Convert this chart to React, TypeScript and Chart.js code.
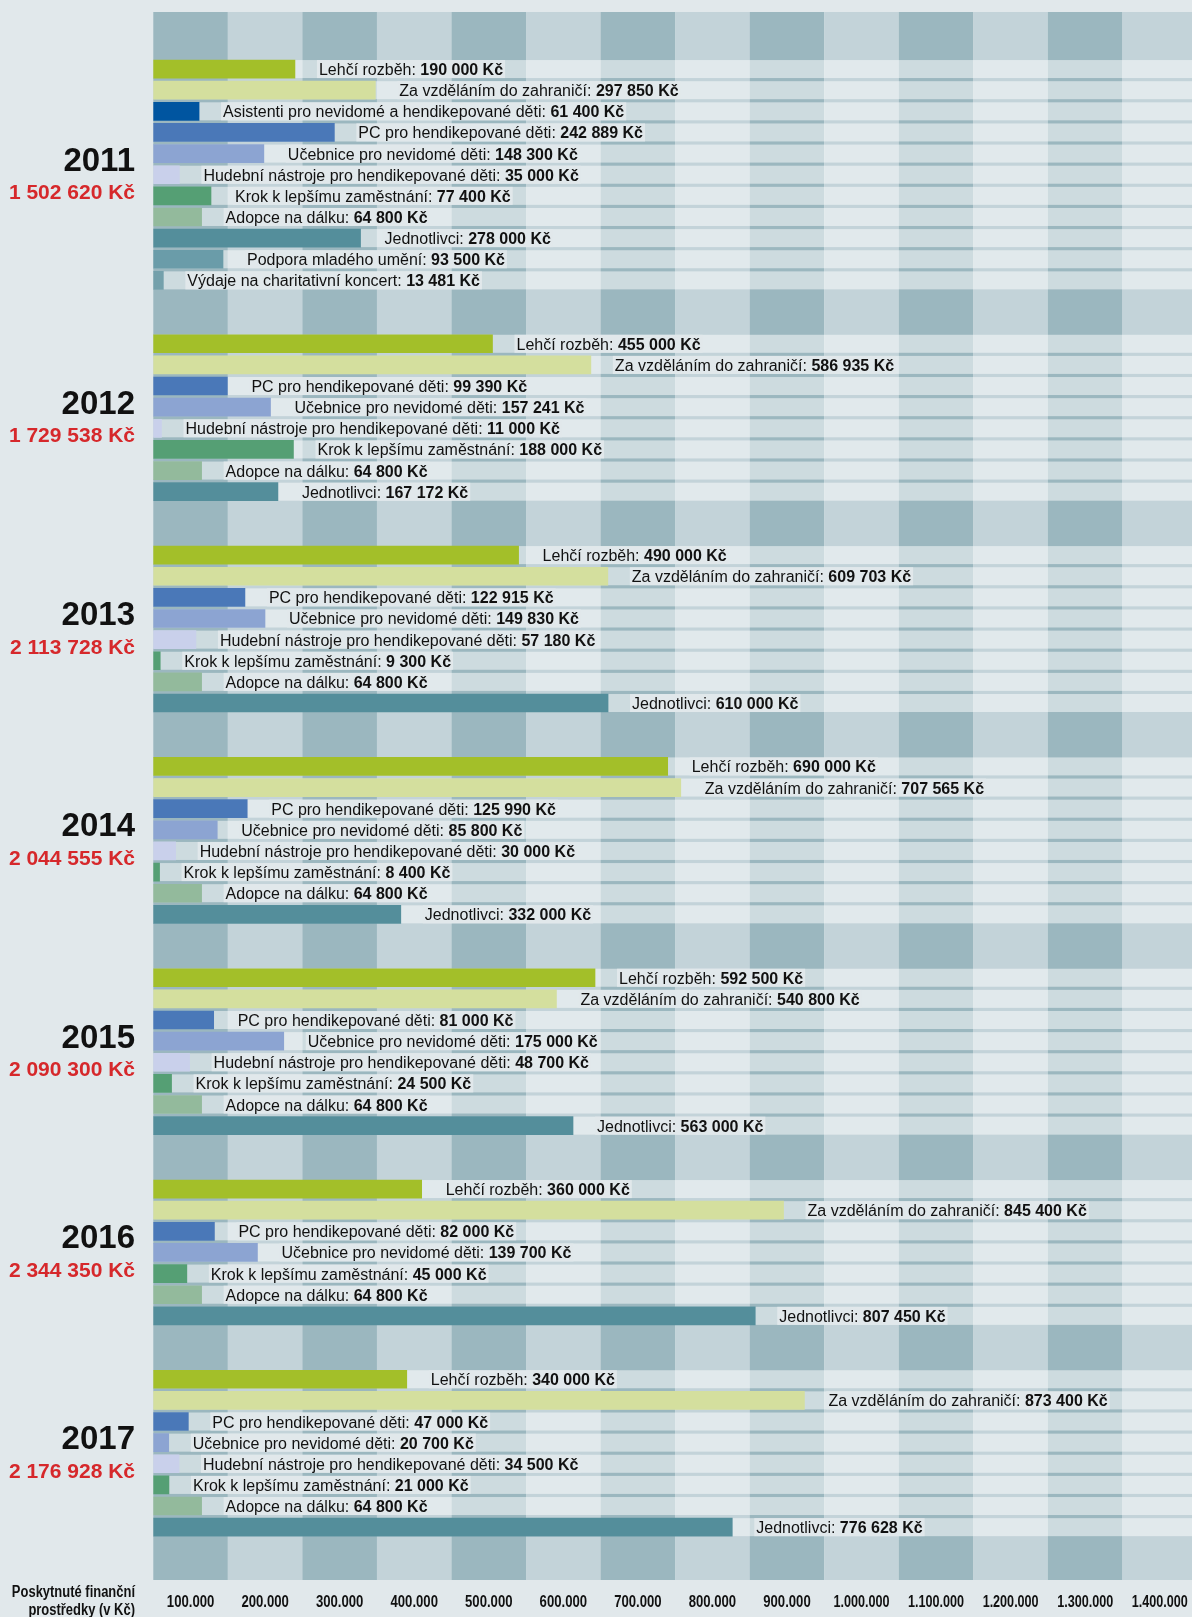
import React, { useEffect, useRef } from "react";
import { Chart, registerables } from "chart.js";

Chart.register(...registerables);

// ---------------- DATA ----------------
const years = ["2011", "2012", "2013", "2014", "2015", "2016", "2017"];
const yearTotals = [
  "1 502 620 Kč",
  "1 729 538 Kč",
  "2 113 728 Kč",
  "2 044 555 Kč",
  "2 090 300 Kč",
  "2 344 350 Kč",
  "2 176 928 Kč",
];

const categories = [
  "Lehčí rozběh",
  "Za vzděláním do zahraničí",
  "Asistenti pro nevidomé a hendikepované děti",
  "PC pro hendikepované děti",
  "Učebnice pro nevidomé děti",
  "Hudební nástroje pro hendikepované děti",
  "Krok k lepšímu zaměstnání",
  "Adopce na dálku",
  "Jednotlivci",
  "Podpora mladého umění",
  "Výdaje na charitativní koncert",
];

const values2011 = [190000, 297850, 61400, 242889, 148300, 35000, 77400, 64800, 278000, 93500, 13481];
const values2012 = [455000, 586935, null, 99390, 157241, 11000, 188000, 64800, 167172, null, null];
const values2013 = [490000, 609703, null, 122915, 149830, 57180, 9300, 64800, 610000, null, null];
const values2014 = [690000, 707565, null, 125990, 85800, 30000, 8400, 64800, 332000, null, null];
const values2015 = [592500, 540800, null, 81000, 175000, 48700, 24500, 64800, 563000, null, null];
const values2016 = [360000, 845400, null, 82000, 139700, null, 45000, 64800, 807450, null, null];
const values2017 = [340000, 873400, null, 47000, 20700, 34500, 21000, 64800, 776628, null, null];

const valuesByYear: (number | null)[][] = [
  values2011,
  values2012,
  values2013,
  values2014,
  values2015,
  values2016,
  values2017,
];

const tickValues = [100000, 200000, 300000, 400000, 500000, 600000, 700000, 800000, 900000, 1000000, 1100000, 1200000, 1300000, 1400000];
const tickLabels = [
  "100.000", "200.000", "300.000", "400.000", "500.000", "600.000", "700.000",
  "800.000", "900.000", "1.000.000", "1.100.000", "1.200.000", "1.300.000", "1.400.000",
];
const axisTitle = ["Poskytnuté finanční", "prostředky (v Kč)"];

// ---------------- STYLES ----------------
const categoryColors = [
  "#A3BF29",
  "#D4DF9E",
  "#0055A0",
  "#4A78B8",
  "#8CA4D2",
  "#C9D0EB",
  "#559F74",
  "#93BA9C",
  "#548E9B",
  "#6A9CA9",
  "#74A0AB",
];
const PAGE_BG = "#E1E8EB";
const COL_DARK = "#9BB7BF";
const COL_LIGHT = "#C3D3D9";
const ROW_OVERLAY = "rgba(255,255,255,0.5)";
const TEXT = "#111111";
const RED = "#D6282B";
const FAMILY = '"Liberation Sans", Arial, Helvetica, sans-serif';

const fmt = (v: number) => String(v).replace(/\B(?=(\d{3})+(?!\d))/g, " ") + " Kč";

// ---------------- ROW LAYOUT (derived from data) ----------------
type Row = { row: number; year: number; cat: number; value: number };
const rows: Row[] = [];
const groups: { year: number; first: number; last: number }[] = [];
(() => {
  let r = 0;
  valuesByYear.forEach((vals, yi) => {
    const first = r;
    vals.forEach((v, ci) => {
      if (v !== null && v !== undefined) {
        rows.push({ row: r, year: yi, cat: ci, value: v });
        r++;
      }
    });
    groups.push({ year: yi, first, last: r - 1 });
    r += 2;
  });
})();

const backgroundPlugin = {
  id: "bgStripes",
  beforeDatasetsDraw(chart: any) {
    const { ctx, chartArea, scales } = chart;
    const x = scales.x;
    const y = scales.y;
    ctx.save();
    ctx.fillStyle = PAGE_BG;
    ctx.fillRect(0, 0, chart.width, chart.height);
    for (let i = 0; i < tickValues.length; i++) {
      const x0 = x.getPixelForValue(i === 0 ? 0 : tickValues[i - 1]);
      const x1 = x.getPixelForValue(tickValues[i]);
      ctx.fillStyle = i % 2 === 0 ? COL_DARK : COL_LIGHT;
      ctx.fillRect(x0, chartArea.top, x1 - x0, chartArea.bottom - chartArea.top);
    }
    ctx.fillStyle = ROW_OVERLAY;
    rows.forEach((d) => {
      const yc = y.getPixelForValue(d.row);
      ctx.fillRect(chartArea.left, yc - 9, chartArea.right - chartArea.left, 18);
    });
    ctx.restore();
  },
};

const labelPlugin = {
  id: "labels",
  afterDatasetsDraw(chart: any) {
    const { ctx, chartArea, scales } = chart;
    const x = scales.x;
    const y = scales.y;
    ctx.save();
    ctx.textBaseline = "alphabetic";
    const NORMAL = `16px ${FAMILY}`;
    const BOLD = `bold 16px ${FAMILY}`;
    rows.forEach((d) => {
      const yc = y.getPixelForValue(d.row);
      const xe = x.getPixelForValue(d.value);
      const tx = xe + 24;
      const a = categories[d.cat] + ": ";
      const b = fmt(d.value);
      ctx.font = NORMAL;
      const wa = ctx.measureText(a).width;
      ctx.font = BOLD;
      const wb = ctx.measureText(b).width;
      ctx.fillStyle = PAGE_BG;
      ctx.fillRect(tx - 2, yc - 9, wa + wb + 4, 18);
      ctx.fillStyle = TEXT;
      ctx.textAlign = "left";
      ctx.font = NORMAL;
      ctx.fillText(a, tx, yc + 6);
      ctx.font = BOLD;
      ctx.fillText(b, tx + wa, yc + 6);
    });

    // year labels
    groups.forEach((g) => {
      const yc = (y.getPixelForValue(g.first) + y.getPixelForValue(g.last)) / 2;
      ctx.textAlign = "right";
      ctx.fillStyle = TEXT;
      ctx.font = `bold 33px ${FAMILY}`;
      ctx.fillText(years[g.year], 135, yc - 4);
      ctx.fillStyle = RED;
      ctx.font = `bold 21px ${FAMILY}`;
      ctx.fillText(yearTotals[g.year], 135, yc + 24.5);
    });

    // x tick labels (centered in each band)
    ctx.fillStyle = TEXT;
    ctx.textAlign = "center";
    ctx.font = `bold 16px ${FAMILY}`;
    tickValues.forEach((v, i) => {
      const prev = i === 0 ? 0 : tickValues[i - 1];
      const cx = (x.getPixelForValue(prev) + x.getPixelForValue(v)) / 2;
      const w = ctx.measureText(tickLabels[i]).width;
      ctx.fillText(tickLabels[i], cx, chartArea.bottom + 27, Math.min(w * 0.82, 56));
    });

    // axis title
    ctx.textAlign = "right";
    axisTitle.forEach((t, i) => {
      const w = ctx.measureText(t).width;
      ctx.fillText(t, 135, chartArea.bottom + 17 + i * 18, w * 0.81);
    });
    ctx.restore();
  },
};

export default function App() {
  const ref = useRef<HTMLCanvasElement>(null);
  useEffect(() => {
    const canvas = ref.current;
    if (!canvas) return;
    const datasets = categories.map((name, ci) => ({
      label: name,
      data: rows.filter((d) => d.cat === ci).map((d) => ({ x: d.value, y: d.row })),
      backgroundColor: categoryColors[ci],
      borderWidth: 0,
      barThickness: 18,
      grouped: false,
    }));
    const chart = new Chart(canvas, {
      type: "bar",
      data: { datasets: datasets as any },
      options: {
        indexAxis: "y",
        animation: false,
        responsive: false,
        maintainAspectRatio: false,
        devicePixelRatio: 1,
        layout: { padding: { left: 153.3, top: 12, right: 0, bottom: 37 } },
        scales: {
          x: { type: "linear", min: 0, max: 1400000, display: false, offset: false },
          y: {
            type: "linear",
            reverse: true,
            min: -2.7,
            max: 71.5,
            display: false,
            offset: false,
            grid: { offset: false },
          },
        },
        plugins: {
          legend: { display: false },
          tooltip: { enabled: false },
        },
      } as any,
      plugins: [backgroundPlugin, labelPlugin],
    });
    return () => chart.destroy();
  }, []);
  return (
    <div
      style={{
        position: "absolute",
        left: 0,
        top: 0,
        width: 1192,
        height: 1617,
        overflow: "hidden",
        background: PAGE_BG,
      }}
    >
      <canvas ref={ref} width={1197} height={1617} style={{ display: "block", width: 1197, height: 1617 }} />
    </div>
  );
}
